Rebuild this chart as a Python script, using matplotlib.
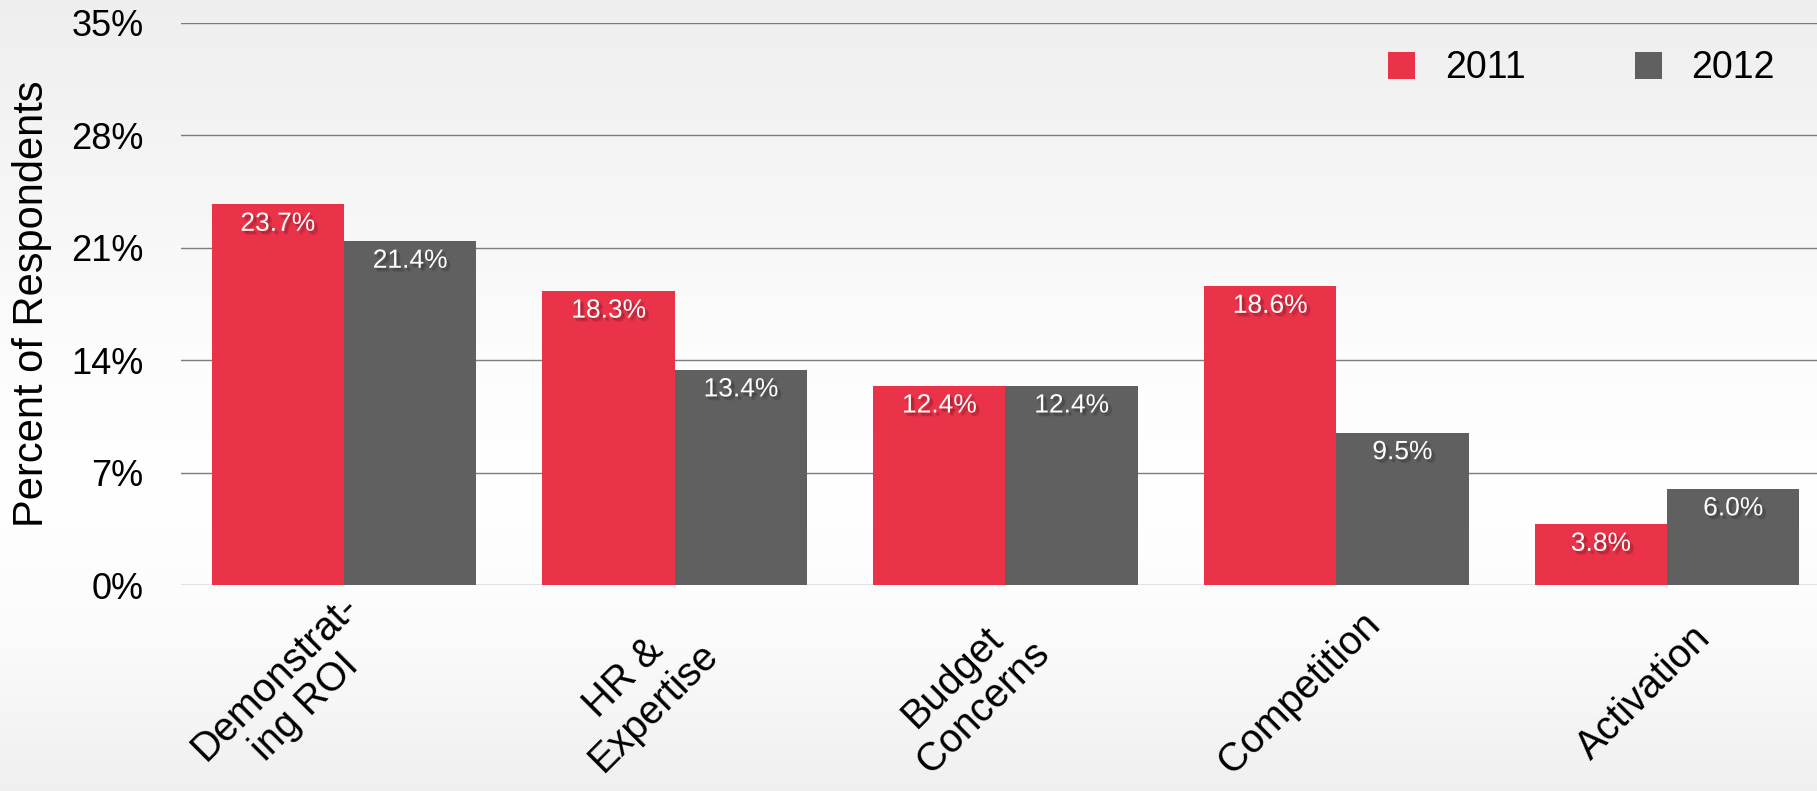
import numpy as np
import matplotlib
matplotlib.use("Agg")
import matplotlib.pyplot as plt
import matplotlib.patheffects as pe
from matplotlib.transforms import ScaledTranslation

# survey results, share of respondents (%)
categories = ["Demonstrat-\ning ROI", "HR &\nExpertise", "Budget\nConcerns",
              "Competition", "Activation"]
years = ["2011", "2012"]
vals_2011 = [23.7, 18.3, 12.4, 18.6, 3.8]
vals_2012 = [21.4, 13.4, 12.4, 9.5, 6.0]
yticks = [0, 7, 14, 21, 28, 35]

RED = "#ea3349"
GREY = "#606060"
GRID = "#7c7c82"

plt.rcParams["font.family"] = ["Liberation Sans", "DejaVu Sans"]

fig = plt.figure(figsize=(18.17, 7.91), dpi=100)

# soft vertical gradient behind everything
bg = fig.add_axes([0, 0, 1, 1], zorder=-5)
yy = np.linspace(0, 1, 400)
shade = np.interp(yy, [0, 0.25, 0.45, 0.62, 0.8, 1.0],
                  [0.935, 0.965, 0.99, 1.0, 0.985, 0.94])
grad = np.repeat(shade[:, None, None], 3, axis=2).repeat(4, axis=1)
bg.imshow(grad, aspect="auto", extent=[0, 1, 0, 1], origin="upper")
bg.axis("off")

ax = fig.add_axes([0.0996, 0.2598, 0.9004, 0.7115])
ax.set_facecolor("none")

x = np.arange(len(categories))
w = 0.40
b1 = ax.bar(x - w / 2, vals_2011, w, color=RED, label=years[0], zorder=3)
b2 = ax.bar(x + w / 2, vals_2012, w, color=GREY, label=years[1], zorder=3)

# value labels with a soft drop shadow
shadow = [pe.SimplePatchShadow(offset=(dx, -dy), shadow_rgbFace="black", alpha=0.07)
          for dx, dy in [(1, 1), (2, 2), (2.5, 1.5), (1.5, 2.5), (3, 3)]]
for bars, vals in [(b1, vals_2011), (b2, vals_2012)]:
    for bar, v in zip(bars, vals):
        ax.annotate(f"{v:.1f}%", (bar.get_x() + bar.get_width() / 2, v),
                    xytext=(0, -19), textcoords="offset points",
                    ha="center", va="baseline", fontsize=19, color="white",
                    zorder=4, path_effects=shadow + [pe.Normal()])

ax.set_xlim(-0.4928, 4.4535)
ax.set_ylim(0, 35)
ax.set_yticks(yticks)
ax.set_yticklabels([f"{t}%" for t in yticks], fontsize=26)
ax.tick_params(axis="y", length=0, pad=27)
ax.grid(axis="y", color=GRID, linewidth=1.0, zorder=0)
ax.set_axisbelow(True)
for s in ax.spines.values():
    s.set_visible(False)

# rotated category labels under each group
ax.set_xticks(x)
ax.set_xticklabels([])
ax.tick_params(axis="x", length=0)
lab_tr = ax.get_xaxis_transform() + ScaledTranslation(0.51, -1.07, fig.dpi_scale_trans)
for xi, cat in zip(x, categories):
    ax.text(xi, 0, cat, transform=lab_tr, rotation=45, ha="right", va="center",
            multialignment="center", fontsize=28.5, linespacing=1.15)

ax.set_ylabel("Percent of Respondents", fontsize=30)
ax.yaxis.set_label_coords(-0.079, 0.5)

ax.legend(loc="center right", bbox_to_anchor=(1775 / 1817, 1 - 68.5 / 791),
          bbox_transform=fig.transFigure, ncol=2, frameon=False, fontsize=27,
          handlelength=0.72, handleheight=0.72, handletextpad=0.8,
          columnspacing=2.9, borderpad=0, borderaxespad=0)

fig.savefig("out.png", dpi=100)
